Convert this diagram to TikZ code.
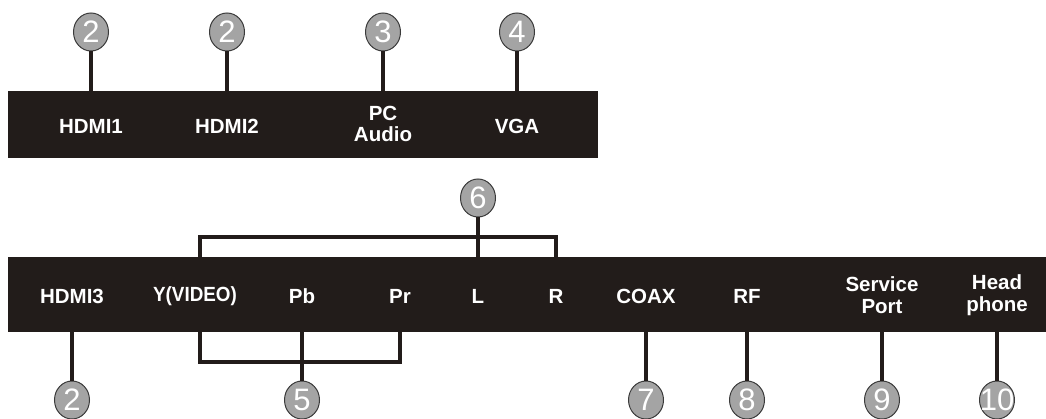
\documentclass[tikz,border=0pt]{standalone}
\usepackage{fontspec}
\usetikzlibrary{shapes.geometric}
\setmainfont{Liberation Sans}
\definecolor{barcol}{HTML}{221C1A}
\definecolor{badgefill}{HTML}{A4A4A4}
\definecolor{badgeline}{HTML}{3A3A3A}
\begin{document}
\begin{tikzpicture}[x=1pt,y=-1pt,
  bar/.style={fill=barcol,draw=none,inner sep=0pt},
  lbl/.style={text=white,font=\bfseries\fontsize{20.5}{21.5}\selectfont,align=center,inner sep=0pt},
  badge/.style={ellipse,fill=badgefill,draw=badgeline,line width=1pt,minimum width=35pt,minimum height=38pt,inner sep=-6pt,
    text=white,font=\fontsize{31}{31}\selectfont},
  wire/.style={draw=barcol,line width=4pt,line join=miter}]
\useasboundingbox (0,0) rectangle (1046,419);
% bars
\node[bar,minimum width=590pt,minimum height=67pt] (tb) at (303,124.5) {};
\node[bar,minimum width=1038pt,minimum height=75pt] (bb) at (527,294.5) {};
% top labels
\node[lbl] (hdmi1) at (91,126) {HDMI1};
\node[lbl] (hdmi2) at (227,126) {HDMI2};
\node[lbl] (pcaudio) at (383,124) {PC\\Audio};
\node[lbl] (vga) at (517,126) {VGA};
% bottom labels
\node[lbl] (hdmi3) at (72,296) {HDMI3};
\node[lbl,xscale=0.92] (yvideo) at (195,296) {Y(VIDEO)};
\node[lbl] (pb) at (302,296) {Pb};
\node[lbl] (pr) at (400,296) {Pr};
\node[lbl] (l) at (478,296) {L};
\node[lbl] (r) at (556,296) {R};
\node[lbl] (coax) at (646,296) {COAX};
\node[lbl] (rf) at (747,296) {RF};
\node[lbl] (service) at (882,295) {Service\\Port};
\node[lbl] (head) at (997,295) {Head\\phone};
% junction coordinate for the brackets
\coordinate (yj) at (200,0);
% top badges
\node[badge] (b1) at (91,32) {2};
\node[badge] (b2) at (227,32) {2};
\node[badge] (b3) at (383,32) {3};
\node[badge] (b4) at (517,32) {4};
% bracket badges
\node[badge] (b6) at (478,198) {6};
\node[badge] (b5) at (302,400) {5};
% bottom badges
\node[badge] (b7) at (72,400) {2};
\node[badge] (b8) at (646,400) {7};
\node[badge] (b9) at (747,400) {8};
\node[badge] (b10) at (882,400) {9};
\node[badge] (b11) at (997,400) {10};
% top stems
\foreach \b in {b1,b2,b3,b4}{
  \draw[wire] (\b.south) -- (\b.south |- tb.north);
}
% bottom stems
\foreach \b in {b7,b8,b9,b10,b11}{
  \draw[wire] (\b.north) -- (\b.north |- bb.south);
}
% bracket 6 (Y, L, R)
\coordinate (k6) at (478,237);
\draw[wire] (yj |- bb.north) -- (yj |- k6) -- (r.center |- k6) -- (r.center |- bb.north);
\draw[wire] (b6.south) -- (b6.south |- bb.north);
% bracket 5 (Y, Pb, Pr)
\coordinate (k5) at (302,362);
\draw[wire] (yj |- bb.south) -- (yj |- k5) -- (pr.center |- k5) -- (pr.center |- bb.south);
\draw[wire] (b5.north) -- (b5.north |- bb.south);
\end{tikzpicture}
\end{document}
